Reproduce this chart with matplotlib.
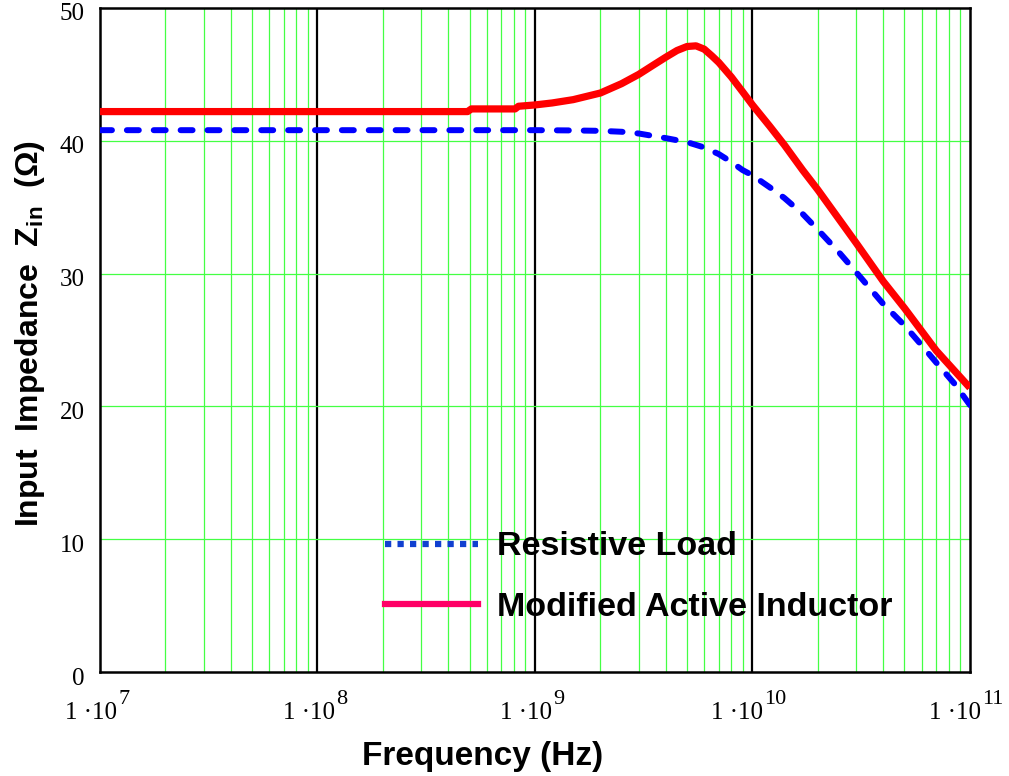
import numpy as np
import matplotlib
matplotlib.use("Agg")
import matplotlib.pyplot as plt
import matplotlib.transforms as mtransforms
from matplotlib.lines import Line2D

# data
freq_res = [1e7, 1e8, 1e9, 1.5e9, 2e9, 2.5e9, 3e9, 4e9, 5e9, 6e9, 7e9, 8e9, 9e9, 1e10,
            1.2e10, 1.4e10, 1.7e10, 2e10, 2.5e10, 3e10, 4e10, 5e10, 6e10, 7e10, 8.5e10, 1e11]
z_res = [40.8, 40.8, 40.8, 40.78, 40.75, 40.68, 40.55, 40.2, 39.9, 39.5, 39.0, 38.4, 37.8, 37.4,
         36.5, 35.7, 34.5, 33.3, 31.6, 30.1, 27.7, 26.1, 24.6, 23.3, 21.7, 20.1]

freq_mai = [1e7, 1e8, 4.9e8, 5.1e8, 8.1e8, 8.4e8, 1e9, 1.2e9, 1.5e9, 2e9, 2.5e9, 3e9,
            3.5e9, 4e9, 4.5e9, 5e9, 5.5e9, 6e9, 6.5e9, 7e9, 8e9, 9e9, 1e10, 1.2e10,
            1.4e10, 1.7e10, 2e10, 3e10, 4e10, 5e10, 7e10, 1e11]
z_mai = [42.2, 42.2, 42.2, 42.4, 42.4, 42.6, 42.7, 42.85, 43.1, 43.6, 44.3, 45.0,
         45.7, 46.3, 46.8, 47.1, 47.15, 46.9, 46.4, 45.9, 44.8, 43.7, 42.7, 41.1,
         39.7, 37.8, 36.3, 32.3, 29.4, 27.4, 24.2, 21.4]

x_ticks = [1e7, 1e8, 1e9, 1e10, 1e11]
x_exps = ["7", "8", "9", "10", "11"]
y_ticks = [0, 10, 20, 30, 40, 50]

fig = plt.figure(figsize=(10.09, 7.76), dpi=100)
ax = fig.add_axes([0.0991, 0.134, 0.8622, 0.8557])

green = "#44ff44"
for d in range(7, 11):
    for m in range(2, 10):
        ax.axvline(m * 10.0 ** d, color=green, lw=0.9, zorder=1)
for d in [1e8, 1e9, 1e10]:
    ax.axvline(d, color="black", lw=1.6, zorder=1)
for yv in [10, 20, 30, 40]:
    ax.axhline(yv, color=green, lw=0.9, zorder=1)

ax.plot(freq_res, z_res, color="#0000ff", lw=4.3, linestyle=(0, (2.0, 2.5)),
        dash_capstyle="round", zorder=3)
ax.plot(freq_mai, z_mai, color="#ff0000", lw=5.2, solid_capstyle="butt", zorder=4)

ax.set_xscale("log")
ax.set_xlim(1e7, 1e11)
ax.set_ylim(0, 50)
ax.minorticks_off()
ax.set_xticks(x_ticks)
ax.set_xticklabels([])
ax.set_yticks(y_ticks)
ax.set_yticklabels([str(v) for v in y_ticks], family="Liberation Serif", fontsize=18)
ax.tick_params(axis="y", length=0, pad=11)
ax.tick_params(axis="x", length=0)
# y labels sit a little below their grid lines in the original
shift_down = mtransforms.ScaledTranslation(0, -0.04, fig.dpi_scale_trans)
for lab in ax.get_yticklabels():
    lab.set_transform(lab.get_transform() + shift_down)
for s in ax.spines.values():
    s.set_linewidth(1.8)

# x tick labels "1·10^n" with a big exponent, like the original
for t, e in zip(x_ticks, x_exps):
    shift = 12.6 if len(e) == 1 else 7.9
    ax.annotate("1 ·10", xy=(t, 0), xycoords=("data", "axes fraction"),
                xytext=(shift, -33.8), textcoords="offset points", ha="right",
                va="baseline", family="Liberation Serif", fontsize=18, annotation_clip=False)
    ax.annotate(e, xy=(t, 0), xycoords=("data", "axes fraction"),
                xytext=(shift + 0.5, -23), textcoords="offset points", ha="left",
                va="baseline", family="Liberation Serif", fontsize=16, annotation_clip=False)

ax.set_xlabel("Frequency (Hz)", family="Liberation Sans", fontweight="bold", fontsize=24)
ax.xaxis.set_label_coords(0.440, -0.1045)
ax.set_ylabel("Input  Impedance  Z$_{\\mathregular{in}}$  (Ω)", family="Liberation Sans",
              fontweight="bold", fontsize=23)
ax.yaxis.set_label_coords(-0.061, 0.51)

handles = [Line2D([], [], color="#1040d0", lw=4.5, linestyle=(0, (1, 1))),
           Line2D([], [], color="#ff0066", lw=4.5)]
ax.legend(handles, ["Resistive Load", "Modified Active Inductor"],
          loc="center left", bbox_to_anchor=(0.328, 0.143), frameon=False,
          borderpad=0, borderaxespad=0, handlelength=2.73, handletextpad=0.55,
          labelspacing=0.86, prop={"family": "Liberation Sans", "weight": "bold", "size": 24.5})

fig.savefig("out.png", dpi=100)
